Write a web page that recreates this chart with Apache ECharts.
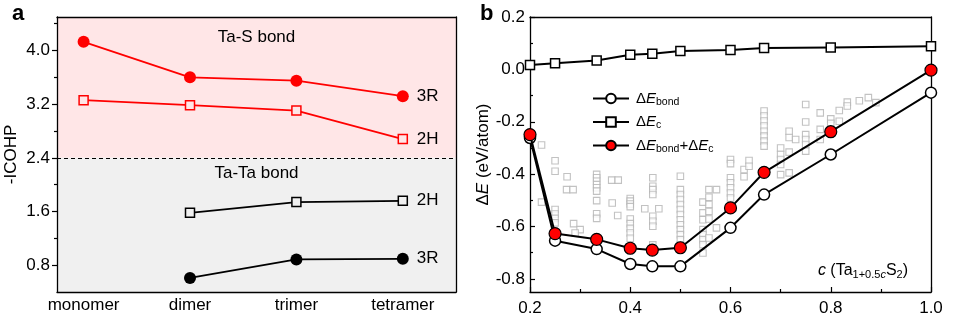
<!DOCTYPE html>
<html><head><meta charset="utf-8">
<script src="https://cdn.jsdelivr.net/npm/echarts@6/dist/echarts.min.js"></script>
<style>html,body{margin:0;padding:0;background:#fff}#c{width:953px;height:327px}</style>
</head><body><div id="c"></div>
<script>
// ---------- Panel a data ----------
const categoriesA = ['monomer', 'dimer', 'trimer', 'tetramer'];
const taS3R  = [4.13, 3.60, 3.55, 3.32];
const taS2H  = [3.26, 3.185, 3.105, 2.68];
const taTa2H = [null, 1.58, 1.74, 1.76];
const taTa3R = [null, 0.61, 0.886, 0.895];
const yTicksA = [0.8, 1.6, 2.4, 3.2, 4.0];
const yMinorA = [1.2, 2.0, 2.8, 3.6, 4.4];

// ---------- Panel b data ----------
const cValues = [0.2, 0.25, 0.333, 0.4, 0.444, 0.5, 0.6, 0.667, 0.8, 1.0];
const dEbond  = [-0.262, -0.654, -0.686, -0.743, -0.752, -0.752, -0.605, -0.478, -0.325, -0.089];
const dEc     = [0.017, 0.023, 0.034, 0.056, 0.060, 0.070, 0.074, 0.082, 0.084, 0.088];
const dEsum   = [-0.249, -0.627, -0.649, -0.683, -0.690, -0.681, -0.529, -0.393, -0.238, -0.003];
const yTicksB = [-0.8, -0.6, -0.4, -0.2, 0.0, 0.2];
const yMinorB = [-0.7, -0.5, -0.3, -0.1, 0.1];
// gray background configurations [c, dE]
const configs = [
  [0.223,-0.289],[0.223,-0.507],
  [0.25,-0.349],[0.25,-0.389],[0.25,-0.535],[0.25,-0.552],[0.25,-0.569],[0.25,-0.586],
  [0.274,-0.41],[0.273,-0.459],[0.286,-0.459],
  [0.287,-0.589],[0.30,-0.612],[0.29,-0.625],
  [0.333,-0.401],[0.333,-0.414],[0.333,-0.427],[0.333,-0.44],[0.333,-0.452],[0.333,-0.465],[0.333,-0.501],[0.333,-0.551],[0.333,-0.569],
  [0.363,-0.423],[0.376,-0.423],[0.364,-0.51],[0.375,-0.558],
  [0.4,-0.493],[0.4,-0.503],[0.4,-0.514],[0.4,-0.524],[0.4,-0.571],[0.4,-0.589],[0.4,-0.607],[0.4,-0.625],[0.4,-0.645],
  [0.429,-0.532],
  [0.445,-0.414],[0.445,-0.446],[0.445,-0.459],[0.445,-0.478],[0.445,-0.561],[0.445,-0.58],[0.445,-0.599],[0.445,-0.67],
  [0.457,-0.532],
  [0.5,-0.408],[0.5,-0.459],[0.5,-0.478],[0.5,-0.497],[0.5,-0.516],[0.5,-0.535],[0.5,-0.554],[0.5,-0.574],[0.5,-0.593],[0.5,-0.612],[0.5,-0.631],[0.5,-0.65],[0.5,-0.67],
  [0.545,-0.507],[0.545,-0.548],[0.545,-0.574],[0.545,-0.612],[0.545,-0.631],[0.545,-0.65],[0.545,-0.669],[0.545,-0.701],
  [0.557,-0.459],[0.557,-0.488],[0.557,-0.516],[0.557,-0.542],[0.557,-0.571],[0.557,-0.644],
  [0.572,-0.459],[0.572,-0.605],
  [0.6,-0.344],[0.6,-0.36],[0.6,-0.414],[0.6,-0.433],[0.6,-0.452],[0.6,-0.472],[0.6,-0.491],
  [0.627,-0.382],[0.627,-0.41],[0.637,-0.348],[0.637,-0.37],
  [0.667,-0.159],[0.667,-0.178],[0.667,-0.197],[0.667,-0.216],[0.667,-0.236],[0.667,-0.255],[0.667,-0.274],[0.667,-0.293],
  [0.7,-0.3],[0.7,-0.325],[0.7,-0.344],[0.7,-0.363],[0.7,-0.402],
  [0.717,-0.236],[0.717,-0.26],[0.73,-0.268],[0.717,-0.316],[0.717,-0.395],
  [0.75,-0.134],[0.75,-0.201],[0.75,-0.249],[0.75,-0.268],[0.75,-0.287],[0.75,-0.312],
  [0.779,-0.166],[0.779,-0.229],[0.779,-0.268],
  [0.8,-0.189],[0.8,-0.206],
  [0.817,-0.157],[0.817,-0.198],
  [0.833,-0.125],[0.833,-0.14],
  [0.857,-0.12],[0.875,-0.108],[0.89,-0.127]
];

const FF = "'Liberation Sans', Arial, sans-serif";
const FS = 17;
const pairsA = arr => arr.map((v, i) => v == null ? null : [i, v]).filter(p => p);
const pairsB = arr => arr.map((v, i) => [cValues[i], v]);

const chart = echarts.init(document.getElementById('c'), null, {renderer: 'canvas'});

const lineBox = {show: true, onZero: false, lineStyle: {color: '#000', width: 1.3}};
const noTickNoLabel = {axisTick: {show: false}, axisLabel: {show: false}, splitLine: {show: false}};

const subRich = {
  n: {fontSize: 15, fontFamily: FF, color: '#000', lineHeight: 18},
  i: {fontSize: 15, fontFamily: FF, color: '#000', fontStyle: 'italic', lineHeight: 18},
  s: {fontSize: 10.5, fontFamily: FF, color: '#000', verticalAlign: 'bottom', lineHeight: 12},
  si: {fontSize: 10.5, fontFamily: FF, color: '#000', fontStyle: 'italic', verticalAlign: 'bottom', lineHeight: 12}
};
const cRich = {
  n: {fontSize: 16, fontFamily: FF, color: '#000', lineHeight: 19},
  i: {fontSize: 16, fontFamily: FF, color: '#000', fontStyle: 'italic', lineHeight: 19},
  s: {fontSize: 11, fontFamily: FF, color: '#000', verticalAlign: 'bottom', lineHeight: 12},
  si: {fontSize: 11, fontFamily: FF, color: '#000', fontStyle: 'italic', verticalAlign: 'bottom', lineHeight: 12}
};
const legendNames = {
  bond: '{n|Δ}{i|E}{s|bond}',
  c: '{n|Δ}{i|E}{s|c}',
  sum: '{n|Δ}{i|E}{s|bond}{n|+Δ}{i|E}{s|c}'
};

const option = {
  animation: false,
  backgroundColor: '#fff',
  textStyle: {fontFamily: FF},
  grid: [
    {left: 57, top: 17, width: 399, height: 275},
    {left: 530, top: 17, width: 401, height: 275}
  ],
  xAxis: [
    {gridIndex: 0, type: 'value', min: -0.25, max: 3.5, position: 'bottom', z: 2,
     axisLine: lineBox, axisTick: {show: false}, splitLine: {show: false},
     axisLabel: {customValues: [0, 1, 2, 3], formatter: v => categoriesA[Math.round(v)] || '',
                 fontSize: FS, color: '#000', fontFamily: FF, margin: 5}},
    Object.assign({gridIndex: 0, type: 'value', min: -0.25, max: 3.5, position: 'top', z: 2, axisLine: lineBox}, noTickNoLabel),
    {gridIndex: 1, type: 'value', min: 0.2, max: 1.0, interval: 0.2, position: 'bottom', z: 2,
     axisLine: lineBox, splitLine: {show: false},
     axisTick: {show: true, inside: true, length: 5, lineStyle: {color: '#000', width: 1.2}},
     minorTick: {show: true, splitNumber: 2, length: 3, lineStyle: {color: '#000', width: 1.2}},
     axisLabel: {formatter: v => v.toFixed(1), fontSize: FS, color: '#000', fontFamily: FF, margin: 8}},
    Object.assign({gridIndex: 1, type: 'value', min: 0.2, max: 1.0, position: 'top', z: 2, axisLine: lineBox}, noTickNoLabel)
  ],
  yAxis: [
    {gridIndex: 0, type: 'value', min: 0.4, max: 4.5, position: 'left', z: 2,
     axisLine: lineBox, splitLine: {show: false},
     axisTick: {show: true, customValues: yTicksA, length: 5, lineStyle: {color: '#000', width: 1.2}},
     axisLabel: {customValues: yTicksA, formatter: v => v.toFixed(1), fontSize: FS, color: '#000', fontFamily: FF, margin: 7},
     name: '-ICOHP', nameLocation: 'middle', nameGap: 37, nameRotate: 90,
     nameTextStyle: {fontSize: FS, color: '#000', fontFamily: FF}},
    Object.assign({gridIndex: 0, type: 'value', min: 0.4, max: 4.5, position: 'right', z: 2, axisLine: lineBox}, noTickNoLabel),
    {gridIndex: 0, type: 'value', min: 0.4, max: 4.5, position: 'left', z: 2,
     axisLine: {show: false, onZero: false}, axisLabel: {show: false}, splitLine: {show: false},
     axisTick: {show: true, customValues: yMinorA, length: 3, lineStyle: {color: '#000', width: 1.2}}},
    {gridIndex: 1, type: 'value', min: -0.85, max: 0.2, position: 'left', z: 2,
     axisLine: lineBox, splitLine: {show: false},
     axisTick: {show: true, inside: true, customValues: yTicksB, length: 5, lineStyle: {color: '#000', width: 1.2}},
     axisLabel: {customValues: yTicksB, formatter: v => v.toFixed(1), fontSize: FS, color: '#000', fontFamily: FF, margin: 5},
     name: '{n|Δ}{i|E}{n| (eV/atom)}', nameLocation: 'middle', nameGap: 38, nameRotate: 90,
     nameTextStyle: {rich: {n: {fontSize: FS, fontFamily: FF, color: '#000'}, i: {fontSize: FS, fontFamily: FF, color: '#000', fontStyle: 'italic'}}}},
    Object.assign({gridIndex: 1, type: 'value', min: -0.85, max: 0.2, position: 'right', z: 2, axisLine: lineBox}, noTickNoLabel),
    {gridIndex: 1, type: 'value', min: -0.85, max: 0.2, position: 'left', z: 2,
     axisLine: {show: false, onZero: false}, axisLabel: {show: false}, splitLine: {show: false},
     axisTick: {show: true, inside: true, customValues: yMinorB, length: 3, lineStyle: {color: '#000', width: 1.2}}}
  ],
  legend: {
    data: ['bond', 'c', 'sum'], orient: 'vertical', left: 587, top: 86,
    itemWidth: 36, itemHeight: 12, itemGap: 7,
    formatter: name => legendNames[name],
    textStyle: {rich: subRich, padding: [0, 0, 0, 2]}
  },
  graphic: [
    {type: 'text', left: 12, top: 3, style: {text: 'a', font: "bold 22px 'Liberation Sans', Arial", fill: '#000'}},
    {type: 'text', left: 480, top: 3, style: {text: 'b', font: "bold 22px 'Liberation Sans', Arial", fill: '#000'}},
    {type: 'text', right: 45, top: 263, style: {
      text: '{i|c}{n| (Ta}{s|1+0.5}{si|c}{n|S}{s|2}{n|)}', rich: cRich}}
  ],
  series: [
    // panel a background regions
    {type: 'line', xAxisIndex: 0, yAxisIndex: 0, data: [], z: 1, silent: true,
     markArea: {silent: true, data: [
       [{yAxis: 4.5, itemStyle: {color: '#ffe6e7'},
         label: {show: true, position: 'insideTop', distance: 12, formatter: 'Ta-S bond', fontSize: FS, color: '#000', fontFamily: FF}},
        {yAxis: 2.4}],
       [{yAxis: 2.4, itemStyle: {color: '#f0f0f0'},
         label: {show: true, position: 'insideTop', distance: 7, formatter: 'Ta-Ta bond', fontSize: FS, color: '#000', fontFamily: FF}},
        {yAxis: 0.4}]
     ]},
     markLine: {silent: true, symbol: 'none', label: {show: false},
       lineStyle: {color: '#000', type: [4, 3], width: 1.2},
       data: [{yAxis: 2.4}]}
    },
    {name: 'TaS3R', type: 'line', xAxisIndex: 0, yAxisIndex: 0, z: 3, data: pairsA(taS3R),
     symbol: 'circle', symbolSize: 12, lineStyle: {color: '#ff0000', width: 1.8},
     itemStyle: {color: '#ff0000'},
     endLabel: {show: true, formatter: '3R', distance: 14, fontSize: FS, color: '#000', fontFamily: FF}},
    {name: 'TaS2H', type: 'line', xAxisIndex: 0, yAxisIndex: 0, z: 3, data: pairsA(taS2H),
     symbol: 'rect', symbolSize: 9, lineStyle: {color: '#ff0000', width: 1.8},
     itemStyle: {color: '#ffe6e7', borderColor: '#ff0000', borderWidth: 1.5},
     endLabel: {show: true, formatter: '2H', distance: 14, fontSize: FS, color: '#000', fontFamily: FF}},
    {name: 'TaTa2H', type: 'line', xAxisIndex: 0, yAxisIndex: 0, z: 3, data: pairsA(taTa2H),
     symbol: 'rect', symbolSize: 9, lineStyle: {color: '#000', width: 1.8},
     itemStyle: {color: '#f0f0f0', borderColor: '#000', borderWidth: 1.5},
     endLabel: {show: true, formatter: '2H', distance: 14, fontSize: FS, color: '#000', fontFamily: FF}},
    {name: 'TaTa3R', type: 'line', xAxisIndex: 0, yAxisIndex: 0, z: 3, data: pairsA(taTa3R),
     symbol: 'circle', symbolSize: 12, lineStyle: {color: '#000', width: 1.8},
     itemStyle: {color: '#000'},
     endLabel: {show: true, formatter: '3R', distance: 14, fontSize: FS, color: '#000', fontFamily: FF}},
    // panel b
    {name: 'configs', type: 'scatter', xAxisIndex: 2, yAxisIndex: 3, z: 1, data: configs,
     symbol: 'rect', symbolSize: 6.5, silent: true,
     itemStyle: {color: '#fff', borderColor: '#b3b3b3', borderWidth: 1.1}},
    {name: 'c', type: 'line', xAxisIndex: 2, yAxisIndex: 3, z: 3, data: pairsB(dEc),
     symbol: 'rect', symbolSize: 9, lineStyle: {color: '#000', width: 2},
     itemStyle: {color: '#fff', borderColor: '#000', borderWidth: 1.5}},
    {name: 'bond', type: 'line', xAxisIndex: 2, yAxisIndex: 3, z: 3, data: pairsB(dEbond),
     symbol: 'circle', symbolSize: 11, lineStyle: {color: '#000', width: 2},
     itemStyle: {color: '#fff', borderColor: '#000', borderWidth: 1.5}},
    {name: 'sum', type: 'line', xAxisIndex: 2, yAxisIndex: 3, z: 4, data: pairsB(dEsum),
     symbol: 'circle', symbolSize: 12, lineStyle: {color: '#000', width: 2},
     itemStyle: {color: '#ff0000', borderColor: '#000', borderWidth: 1.2}}
  ]
};
chart.setOption(option);
</script>
</body></html>
